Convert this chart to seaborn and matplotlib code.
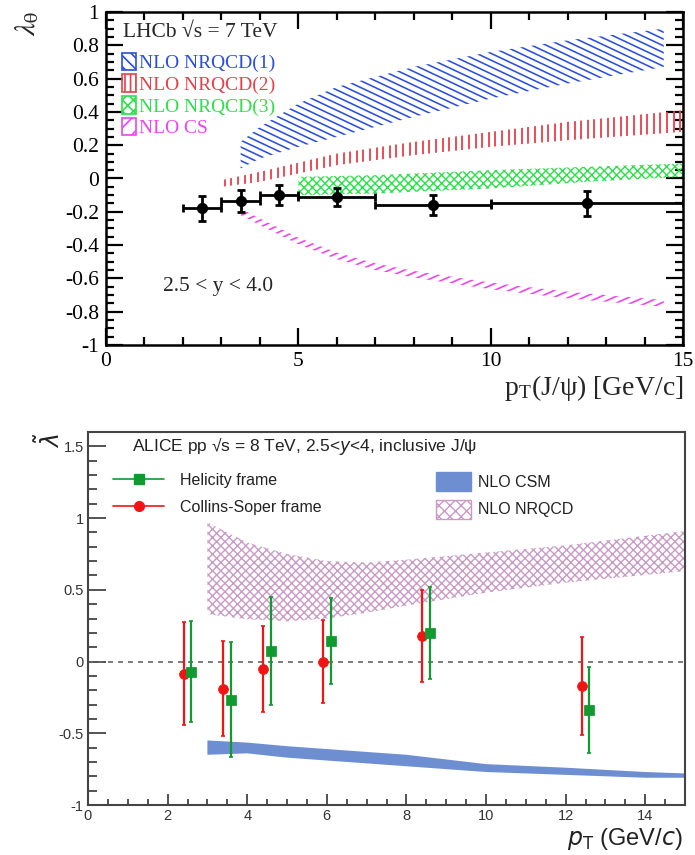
import numpy as np
import matplotlib
matplotlib.use("Agg")
import matplotlib.pyplot as plt
from matplotlib.patches import Patch
from matplotlib.lines import Line2D
from matplotlib.collections import LineCollection
from matplotlib.ticker import MultipleLocator, FuncFormatter
import seaborn as sns

# ---------------- LHCb (top) data ----------------
lhcb_pt = [2.5, 3.5, 4.5, 6.0, 8.5, 12.5]
lhcb_pt_lo = [2, 3, 4, 5, 7, 10]
lhcb_pt_hi = [3, 4, 5, 7, 10, 15]
lhcb_lam = [-0.18, -0.135, -0.10, -0.11, -0.16, -0.15]
lhcb_err = [0.075, 0.066, 0.06, 0.055, 0.06, 0.075]

nrqcd1_pt = [3.5, 4, 5, 6, 8, 10, 12, 14.5]
nrqcd1_lo = [0.06, 0.12, 0.19, 0.25, 0.37, 0.48, 0.57, 0.67]
nrqcd1_hi = [0.22, 0.31, 0.45, 0.55, 0.67, 0.76, 0.83, 0.90]

nrqcd2_pt = [3, 4, 6, 8, 10, 12, 15]
nrqcd2_lo = [-0.05, -0.02, 0.08, 0.14, 0.19, 0.23, 0.28]
nrqcd2_hi = [-0.01, 0.04, 0.15, 0.22, 0.28, 0.34, 0.41]

nrqcd3_pt = [5, 7, 10, 12.5, 15]
nrqcd3_lo = [-0.10, -0.09, -0.06, -0.02, 0.01]
nrqcd3_hi = [0.01, 0.02, 0.05, 0.07, 0.09]

cs_th_pt = [3.5, 4, 5, 6, 7, 8, 10, 12, 14.5]
cs_th_lo = [-0.22, -0.28, -0.395, -0.485, -0.55, -0.595, -0.665, -0.72, -0.77]
cs_th_hi = [-0.18, -0.24, -0.355, -0.445, -0.51, -0.555, -0.625, -0.68, -0.73]

# ---------------- ALICE (bottom) data ----------------
alice_cs_pt = [2.4, 3.4, 4.4, 5.9, 8.4, 12.4]
alice_cs_lam = [-0.085, -0.19, -0.055, 0.0, 0.18, -0.17]
alice_cs_err = [0.36, 0.33, 0.30, 0.29, 0.32, 0.34]

alice_hx_pt = [2.6, 3.6, 4.6, 6.1, 8.6, 12.6]
alice_hx_lam = [-0.07, -0.265, 0.075, 0.14, 0.20, -0.34]
alice_hx_err = [0.35, 0.40, 0.375, 0.30, 0.32, 0.30]

csm_pt = [3, 4, 5, 6, 7, 8, 10, 12, 14, 15]
csm_lo = [-0.65, -0.64, -0.67, -0.69, -0.71, -0.73, -0.77, -0.79, -0.81, -0.81]
csm_hi = [-0.55, -0.565, -0.59, -0.61, -0.63, -0.65, -0.715, -0.74, -0.77, -0.78]

nrq_pt = [3, 4, 5, 6, 7, 8, 10, 12, 15]
nrq_lo = [0.33, 0.295, 0.28, 0.30, 0.34, 0.39, 0.48, 0.55, 0.63]
nrq_hi = [0.97, 0.83, 0.75, 0.70, 0.69, 0.71, 0.76, 0.81, 0.91]

sns.set_theme(style="ticks")
plt.rcParams['axes.unicode_minus'] = False
plt.rcParams['font.family'] = ['Liberation Serif', 'DejaVu Serif']
plt.rcParams['hatch.linewidth'] = 1.0

SERIF = ['Liberation Serif', 'DejaVu Serif']
SANS = ['Liberation Sans', 'DejaVu Sans']

fig = plt.figure(figsize=(6.95, 8.55), dpi=100)


def hatch_band(ax, x, lo, hi, color, slope_px, step_px, lw, ax_w_px, ax_h_px, zorder=2):
    """Band drawn as hatch lines (ROOT style) clipped to the fill_between polygon."""
    poly = ax.fill_between(x, lo, hi, facecolor='none', edgecolor='none', lw=0)
    segs = []
    if slope_px is None:  # vertical lines
        for xf in np.arange(0, 1, step_px / ax_w_px):
            segs.append([(xf, 0), (xf, 1)])
    else:
        s = slope_px * ax_w_px / ax_h_px           # slope in axes-fraction units
        dc = abs(slope_px) * step_px / ax_h_px      # intercept step
        for c in np.arange(-abs(s) - 1, abs(s) + 1, dc):
            segs.append([(0, c), (1, c + s)])
    lc = LineCollection(segs, colors=color, linewidths=lw, transform=ax.transAxes, zorder=zorder)
    lc.set_clip_path(poly.get_paths()[0], ax.transData)
    ax.add_collection(lc, autolim=False)


# ================= TOP PANEL =================
W1, H1 = 577, 333
ax1 = fig.add_axes([106/695, 1-345/855, W1/695, H1/855])
ax1.set_xlim(0, 15)
ax1.set_ylim(-1, 1)

c_blue, c_red, c_green, c_mag = '#2a4ee0', '#e8404a', '#2de04a', '#ee44ee'
hatch_band(ax1, nrqcd1_pt, nrqcd1_lo, nrqcd1_hi, c_blue, -0.47, 14.5, 1.15, W1, H1)
hatch_band(ax1, nrqcd2_pt, nrqcd2_lo, nrqcd2_hi, c_red, None, 6.6, 1.3, W1, H1)
hatch_band(ax1, cs_th_pt, cs_th_lo, cs_th_hi, c_mag, 0.45, 15.0, 1.2, W1, H1)
ax1.fill_between(nrqcd3_pt, nrqcd3_lo, nrqcd3_hi, facecolor='none', edgecolor=c_green, hatch='xxxx', lw=0)

pt = np.array(lhcb_pt)
xerr = [pt - np.array(lhcb_pt_lo), np.array(lhcb_pt_hi) - pt]
ax1.errorbar(lhcb_pt, lhcb_lam, xerr=xerr, yerr=lhcb_err, fmt='none', ecolor='black',
             elinewidth=2, capsize=3, capthick=2, zorder=4)
sns.scatterplot(x=lhcb_pt, y=lhcb_lam, ax=ax1, color='black', s=55, edgecolor='black', zorder=5)

ax1.xaxis.set_major_locator(MultipleLocator(5))
ax1.xaxis.set_minor_locator(MultipleLocator(1))
ax1.yaxis.set_major_locator(MultipleLocator(0.2))
ax1.yaxis.set_minor_locator(MultipleLocator(0.05))
ax1.yaxis.set_major_formatter(FuncFormatter(lambda v, p: ('%g' % round(v, 2)) if abs(v) > 1e-9 else '0'))
ax1.tick_params(which='both', direction='in', top=True, right=True, width=1.6, colors='black',
                labelsize=15.5, pad=5)
ax1.tick_params(which='major', length=12)
ax1.tick_params(which='minor', length=6)
for s in ax1.spines.values():
    s.set_linewidth(1.8)
    s.set_color('black')
for lab in ax1.get_xticklabels() + ax1.get_yticklabels():
    lab.set_fontfamily(SERIF)

ax1.text(0.44, 0.874, 'LHCb √s = 7 TeV', fontsize=15.5, family=SERIF, va='center', ha='left')
ax1.text(1.48, -0.65, '2.5 < y < 4.0', fontsize=15.5, family=SERIF, va='center', ha='left')

plt.rcParams['hatch.linewidth'] = 1.2
top_handles = [Patch(facecolor='none', edgecolor=c, hatch=h, lw=1.2)
               for c, h in [(c_blue, '\\\\\\'), (c_red, '|||'), (c_green, 'xxx'), (c_mag, '//')]]
top_labels = ['NLO NRQCD(1)', 'NLO NRQCD(2)', 'NLO NRQCD(3)', 'NLO CS']
ax1.legend(top_handles, top_labels, loc='upper left', bbox_to_anchor=(0.028, 0.878),
           frameon=False, prop={'family': SERIF, 'size': 14},
           labelcolor=[c_blue, c_red, c_green, c_mag], handlelength=0.7, handleheight=1.0,
           handletextpad=0.15, labelspacing=0.12, borderpad=0, borderaxespad=0)
plt.rcParams['hatch.linewidth'] = 1.0

fig.text(27/695, 1-23/855, r'$\lambda_{\mathrm{\theta}}$', rotation=90, fontsize=21,
         ha='center', va='center', math_fontfamily='stix')
fig.text(683/695, 1-395/855, r'p$_{\mathregular{T}}$(J/ψ) [GeV/c]', ha='right', va='baseline',
         fontsize=20, family=SERIF, math_fontfamily='stix')

# ================= BOTTOM PANEL =================
ax2 = fig.add_axes([88/695, 1-805/855, 597/695, 373/855])
ax2.set_xlim(0, 15)
ax2.set_ylim(-1, 1.6)

c_csm, c_nrq = '#6d8fd2', '#c99ac5'
c_g, c_r = '#109a30', '#f01515'
ax2.fill_between(csm_pt, csm_lo, csm_hi, facecolor=c_csm, edgecolor='none', lw=0, zorder=1)
ax2.fill_between(nrq_pt, nrq_lo, nrq_hi, facecolor='none', edgecolor=c_nrq, hatch='xxxx', lw=0, zorder=1)
ax2.axhline(0, ls=(0, (3, 3)), color='#666666', lw=1.2, zorder=2)

ax2.errorbar(alice_cs_pt, alice_cs_lam, yerr=alice_cs_err, fmt='none', ecolor=c_r,
             elinewidth=1.6, capsize=1.5, capthick=1.2, zorder=3)
ax2.errorbar(alice_hx_pt, alice_hx_lam, yerr=alice_hx_err, fmt='none', ecolor=c_g,
             elinewidth=1.6, capsize=1.5, capthick=1.2, zorder=3)
sns.scatterplot(x=alice_cs_pt, y=alice_cs_lam, ax=ax2, color=c_r, marker='o', s=50,
                edgecolor=c_r, zorder=4)
sns.scatterplot(x=alice_hx_pt, y=alice_hx_lam, ax=ax2, color=c_g, marker='s', s=45,
                edgecolor=c_g, zorder=4)

ax2.xaxis.set_major_locator(MultipleLocator(2))
ax2.xaxis.set_minor_locator(MultipleLocator(0.5))
ax2.yaxis.set_major_locator(MultipleLocator(0.5))
ax2.yaxis.set_minor_locator(MultipleLocator(0.1))
ax2.yaxis.set_major_formatter(FuncFormatter(lambda v, p: ('%g' % round(v, 2)) if abs(v) > 1e-9 else '0'))
ax2.tick_params(which='both', direction='in', top=False, right=False, colors='#444444',
                labelcolor='#333333', labelsize=10.5, width=1.3)
ax2.tick_params(axis='y', which='major', length=13, pad=3)
ax2.tick_params(axis='y', which='minor', length=6.5)
ax2.tick_params(axis='x', which='major', length=8, pad=3)
ax2.tick_params(axis='x', which='minor', length=4)
for s in ax2.spines.values():
    s.set_linewidth(1.5)
    s.set_color('#444444')
for lab in ax2.get_xticklabels() + ax2.get_yticklabels():
    lab.set_fontfamily(SANS)

ax2.text(1.1, 1.5, r'ALICE pp √s = 8 TeV, 2.5<$y$<4, inclusive J/ψ', fontsize=12.5, family=SANS,
         va='center', ha='left', color='#222222', math_fontfamily='dejavusans')

leg1 = ax2.legend([Line2D([], [], color=c_g, marker='s', markersize=7, lw=1.2),
                   Line2D([], [], color=c_r, marker='o', markersize=7, lw=1.2)],
                  ['Helicity frame', 'Collins-Soper frame'],
                  loc='upper left', bbox_to_anchor=(0.042, 0.89), frameon=False,
                  prop={'family': SANS, 'size': 11.5}, handlelength=3.2, handletextpad=1.0,
                  labelspacing=0.75, borderpad=0, borderaxespad=0, labelcolor='#222222')
ax2.add_artist(leg1)
ax2.legend([Patch(facecolor=c_csm, edgecolor=c_csm), Patch(facecolor='none', edgecolor=c_nrq, hatch='xxx')],
           ['NLO CSM', 'NLO NRQCD'], loc='upper left', bbox_to_anchor=(0.583, 0.893), frameon=False,
           prop={'family': SANS, 'size': 11.5}, handlelength=2.2, handleheight=1.45, handletextpad=0.4,
           labelspacing=0.55, borderpad=0, borderaxespad=0, labelcolor='#222222')

fig.text(50/695, 1-440/855, r'$\tilde{\lambda}$', rotation=90, fontsize=17, ha='center',
         va='center', color='#222222', math_fontfamily='dejavusans')
fig.text(683/695, 1-845/855, r'$p_{\mathrm{T}}$ (GeV/$c$)', ha='right', va='baseline', fontsize=17,
         family=SANS, color='#222222', math_fontfamily='dejavusans')

fig.savefig('out.png', dpi=100)
